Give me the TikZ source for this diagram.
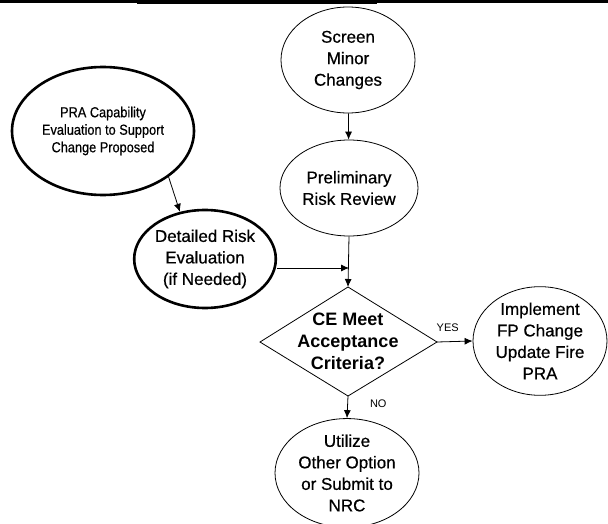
\documentclass[tikz,border=0pt]{standalone}
\usepackage{fontspec}
\setmainfont{Liberation Sans}
% slightly heavier upright face for the box labels
\newfontfamily\labelfont{Liberation Sans}[FakeBold=0.6]
\usetikzlibrary{shapes.geometric,arrows.meta}
\begin{document}
\begin{tikzpicture}[x=1pt,y=-1pt,
  every node/.style={inner sep=0pt,align=center},
  proc/.style={ellipse,draw,line width=0.8pt,font=\labelfont\fontsize{17}{21.5}\selectfont},
  heavy/.style={ellipse,draw,line width=2.6pt},
  decisiontext/.style={font=\bfseries\fontsize{18}{22}\selectfont},
  flow/.style={line width=0.8pt,-{Latex[length=8pt,width=7pt]}},
  tag/.style={font=\fontsize{11}{13}\selectfont}]
\useasboundingbox (0,0) rectangle (608,524);
% scan border along the top edge
\fill (0,0) rectangle (608,3.2);
\fill (137,0) rectangle (377,4.2);

\node[proc,minimum width=134pt,minimum height=106pt] (screen) at (348,60) {Screen\\Minor\\Changes};
\node[proc,minimum width=138pt,minimum height=96pt] (prelim) at (349,188) {Preliminary\\Risk Review};
\node[heavy,minimum width=182pt,minimum height=128pt,
      font=\labelfont\fontsize{14.5}{17.5}\selectfont] (pra) at (103,131)
      {\scalebox{0.88}[1]{PRA Capability}\\\scalebox{0.88}[1]{Evaluation to Support}\\\scalebox{0.88}[1]{Change Proposed}};
\node[heavy,minimum width=114pt,minimum height=98pt,
      font=\labelfont\fontsize{17}{21.5}\selectfont] (det) at (205,259) {Detailed Risk\\Evaluation\\(if Needed)};

% decision diamond
\coordinate (ceN) at (348,287);
\coordinate (ceE) at (437,342);
\coordinate (ceS) at (348,396);
\coordinate (ceW) at (260,342);
\draw[line width=0.8pt] (ceN) -- (ceE) -- (ceS) -- (ceW) -- cycle;
\node[decisiontext] (ce) at (348,341) {CE Meet\\Acceptance\\Criteria?};

\node[proc,minimum width=134pt,minimum height=106pt] (impl) at (540,341) {Implement\\FP Change\\Update Fire\\PRA};
\node[proc,minimum width=144pt,minimum height=102pt] (util) at (347,473) {Utilize\\Other Option\\or Submit to\\NRC};

\coordinate (merge) at (349,268);

\draw[flow] (screen) -- (prelim);
\draw[flow] (pra.-35) -- (det.118);
\draw[flow] (det.east |- merge) -- (merge);
\draw[flow] (prelim.south) -- (ceN);
\draw[flow] (ceE) -- (impl.west) node[tag,pos=0.3,above=10pt] {YES};
\draw[flow] (ceS) -- (util.north) node[tag,pos=0.35,right=22pt] {NO};
\end{tikzpicture}
\end{document}
